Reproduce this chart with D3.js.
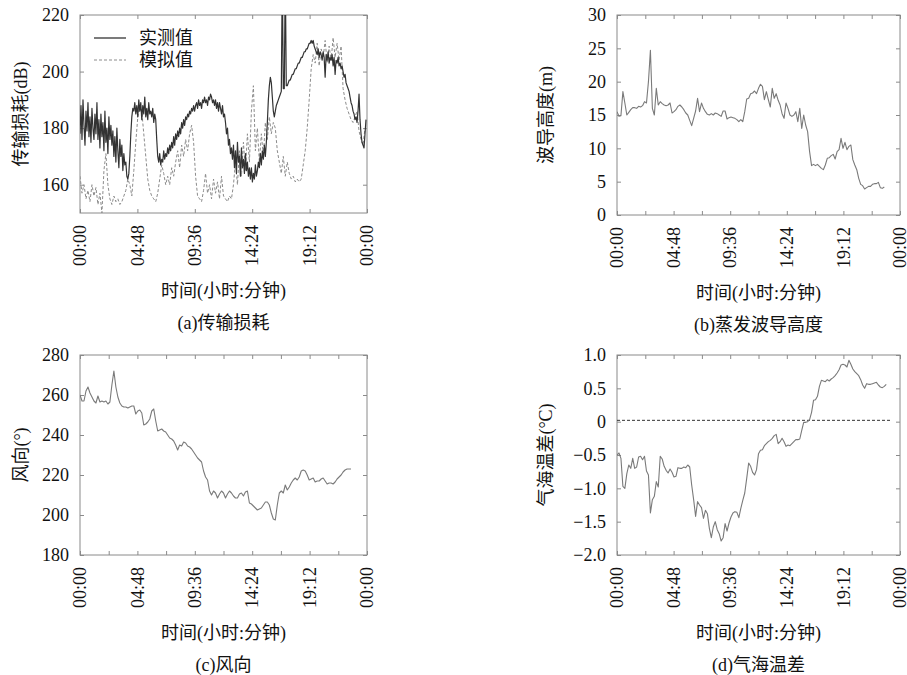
<!DOCTYPE html>
<html>
<head>
<meta charset="utf-8">
<script src="https://cdn.jsdelivr.net/npm/d3@7"></script>
<style>
  body { margin: 0; background: #fff; }
  svg text { font-family: "Liberation Serif", "Noto Sans CJK SC", serif; fill: #111; }
</style>
</head>
<body>
<svg id="chart" width="907" height="675"></svg>
<script>
// ---- shared time axis (hours of the day) ----
const MEASURED_STEP_HOURS = 5 / 60;   // measured loss logged every 5 minutes
const STEP_HOURS = 10 / 60;           // all other records every 10 minutes
const timeMajorTicks = [0, 4.8, 9.6, 14.4, 19.2, 24];
const timeMinorTicks = [0, 2.4, 4.8, 7.2, 9.6, 12, 14.4, 16.8, 19.2, 21.6, 24];
const timeTickLabels = ["00:00", "04:48", "09:36", "14:24", "19:12", "00:00"];

// ---- (a) transmission loss, dB ----
const lossMeasured = [
  178,188,176,190,181,174,186,179,189,177,184,175,187,180,176,185,178,189,176,
  183,173,185,177,182,172,186,175,180,171,184,176,181,
  174,179,170,177,168,180,172,166,176,170,174,165,171,167,168,163,162,
  164,170,178,184,187,186,189,185,
  188,184,190,186,189,183,188,185,191,184,187,183,189,185,186,184,187,182,185,183,
  176,170,168,171,167,169,
  168,172,169,171,170,173,171,174,
  172,175,173,177,174,178,176,179,177,180,178,182,180,183,181,184,183,185,184,186,185,187,186,188,186,188,
  189,187,190,188,189,187,190,189,191,189,190,188,191,190,192,191,
  189,190,188,190,187,189,186,189,187,185,188,184,185,
  182,178,180,174,176,171,173,169,
  174,166,172,164,175,168,170,163,173,166,169,164,171,165,168,163,166,
  162,166,161,164,162,167,163,165,
  168,166,171,167,172,169,174,170,175,
  182,190,195,198,196,
  191,186,184,186,188,
  189,190,191,192,
  193,235,194,194,235,195,
  195,196,197,197,198,199,199,200,201,201,202,203,203,204,205,205,206,207,207,208,208,209,210,210,
  211,210,211,209,208,
  207,206,208,205,207,206,204,207,205,198,206,204,207,203,205,204,206,202,205,199,204,203,205,202,203,201,202,
  200,198,199,196,195,194,193,191,189,
  188,186,185,183,184,182,186,192,183,178,175,174,173,178,183
];
const lossSimulated = [
  163,157,160,155,158,154,160,156,159,153,157,
  150,165,171,160,
  155,153,156,154,155,153,154,156,
  158,162,160,156,
  165,175,184,188,
  186,178,
  170,162,158,156,
  155,154,157,
  162,167,164,160,163,160,166,163,
  168,172,166,174,170,176,172,178,181,175,163,156,
  155,154,
  158,164,157,160,155,162,157,161,155,163,156,155,154,156,155,
  160,168,160,172,163,175,165,178,168,186,195,172,180,168,178,170,182,176,184,178,182,180,
  172,168,164,170,163,168,164,162,163,161,162,161,162,
  167,172,180,190,201,206,203,210,202,208,205,211,203,209,204,212,205,210,204,209,
  194,190,187,185,183,182,184,186,179,176,174,180
];
const lossTicks = [160, 180, 200, 220];

// ---- (b) evaporation duct height, m ----
const ductHeight = [
  15.5,14.8,14.9,18.5,16.8,15.0,15.4,15.8,16.1,16.1,
  16.0,16.3,16.2,16.4,17.0,16.8,20.0,24.7,16.0,15.0,
  19.0,16.5,17.0,16.7,16.5,16.4,16.5,16.8,15.3,15.5,
  15.8,16.3,16.5,16.2,15.8,15.3,15.0,14.2,13.4,14.5,
  15.6,17.5,15.5,16.8,16.0,15.5,15.1,15.0,15.2,15.0,
  15.3,15.2,15.0,14.8,15.6,15.6,14.4,14.6,14.7,14.6,
  14.5,14.3,14.0,14.3,14.0,15.5,17.4,17.5,18.2,18.3,
  18.6,18.2,19.0,19.6,19.3,17.3,18.5,17.3,16.2,19.0,
  17.5,18.2,17.2,16.5,15.2,14.5,16.8,16.0,15.0,14.8,
  15.0,15.5,14.0,16.0,13.0,15.0,13.5,12.5,9.5,7.4,
  7.6,7.4,7.6,7.3,7.0,6.8,7.5,8.5,8.6,8.9,
  9.1,8.4,9.5,9.8,11.5,10.0,10.9,9.8,10.3,10.5,
  8.3,7.5,6.8,5.5,4.6,4.4,3.9,4.1,4.3,4.3,
  4.6,4.7,4.7,4.9,4.1,4.0,4.2
];
const ductTicks = [0, 5, 10, 15, 20, 25, 30];

// ---- (c) wind direction, degrees ----
const windDirection = [
  260,257,257,262,264,261,259,257,256,259.5,
  256.5,257,256.5,257,255.5,256.5,265,272,264,259,
  256,254.5,254,254,253.5,254,254.5,254.5,250.5,252,
  252.5,251,245,245.5,246.5,248,252,253,247,242,
  242.5,243,242,241.5,240,238.5,238,237,235,232.5,
  235,234.5,236.5,236,234.5,234,233,231.5,230,228.5,
  227.5,226.5,222,219,217.5,212,210,212,211,208.5,
  210.5,212,211,208.5,210.5,212,211,209.5,208.5,208.5,
  210.5,211,209.5,211.5,212,206,205.5,204.5,203.5,202.5,
  203,203.5,205,206.5,206.5,205,201,198,197.5,205,
  211,212,211,215,212.5,214,216,217.5,218.5,217.5,
  219,222,222.5,222,220,217.5,218,218.5,216.5,217,
  217,218,218.5,217,215.5,216,216,215.5,216.5,218,
  219,220,221.5,222.5,223,223,223
];
const windTicks = [180, 200, 220, 240, 260, 280];

// ---- (d) air-sea temperature difference, °C ----
const airSeaDiff = [
  -0.50,-0.47,-0.55,-0.97,-1.00,-0.78,-0.65,-0.70,-0.55,-0.70,
  -0.68,-0.53,-0.52,-0.57,-0.52,-0.74,-0.80,-1.37,-1.17,-1.12,
  -0.90,-0.98,-0.52,-0.56,-0.67,-0.73,-0.77,-0.71,-0.76,-0.83,
  -0.82,-0.69,-0.70,-0.70,-0.68,-0.69,-0.65,-0.68,-0.95,-1.17,
  -1.42,-1.20,-1.25,-1.29,-1.45,-1.33,-1.38,-1.60,-1.74,-1.58,
  -1.50,-1.62,-1.68,-1.79,-1.74,-1.53,-1.64,-1.52,-1.43,-1.37,
  -1.35,-1.36,-1.44,-1.30,-1.18,-1.07,-0.85,-0.62,-0.67,-0.76,
  -0.80,-0.72,-0.48,-0.43,-0.42,-0.36,-0.33,-0.30,-0.28,-0.25,
  -0.21,-0.19,-0.33,-0.30,-0.25,-0.30,-0.37,-0.35,-0.36,-0.33,
  -0.30,-0.27,-0.27,-0.26,-0.13,-0.01,-0.01,0.00,0.03,0.14,
  0.32,0.33,0.38,0.53,0.62,0.61,0.60,0.63,0.61,0.64,
  0.66,0.69,0.73,0.78,0.85,0.86,0.85,0.82,0.92,0.86,
  0.79,0.75,0.72,0.69,0.63,0.55,0.50,0.57,0.56,0.56,
  0.57,0.58,0.59,0.55,0.52,0.51,0.53,0.56
];
const zeroLineHours = [0, 23.3];
const zeroLineValues = [0.02, 0.02];
const diffTicks = [-2, -1.5, -1, -0.5, 0, 0.5, 1];

// ---- drawing ----
const svg = d3.select("#chart");
const FRAME = "#8a8a8a";
const fmtDiff = d => d === 0 ? "0" : d3.format(".1f")(d).replace("-", "\u2212");

function drawPanel(opt) {
  const x = d3.scaleLinear().domain([0, 24]).range([opt.left, opt.right]);
  const y = d3.scaleLinear().domain(opt.yDomain).range([opt.bottom, opt.top]);
  const g = svg.append("g");

  const clipId = "clip-" + opt.id;
  g.append("clipPath").attr("id", clipId).append("rect")
    .attr("x", opt.left).attr("y", opt.top)
    .attr("width", opt.right - opt.left).attr("height", opt.bottom - opt.top);

  const tickVals = opt.minor ? timeMinorTicks : timeMajorTicks;
  const tickLabel = d => {
    const k = timeMajorTicks.indexOf(d);
    return k >= 0 ? timeTickLabels[k] : "";
  };

  // bottom axis with rotated time labels
  const bottom = g.append("g").attr("transform", `translate(0,${opt.bottom})`)
    .call(d3.axisBottom(x).tickValues(tickVals).tickSize(-4).tickPadding(12).tickFormat(tickLabel));
  bottom.selectAll("text")
    .attr("transform", "rotate(-90)")
    .attr("x", -12).attr("y", 0).attr("dy", "0.32em")
    .style("text-anchor", "end").style("font-size", "18px");

  g.append("g").attr("transform", `translate(0,${opt.top})`)
    .call(d3.axisTop(x).tickValues(tickVals).tickSize(-4).tickFormat(""));

  g.append("g").attr("transform", `translate(${opt.left},0)`)
    .call(d3.axisLeft(y).tickValues(opt.yTicks).tickSize(-4).tickPadding(11)
      .tickFormat(opt.yFormat || d3.format("d")))
    .selectAll("text").style("font-size", "18px");

  g.append("g").attr("transform", `translate(${opt.right},0)`)
    .call(d3.axisRight(y).tickValues(opt.yTicks).tickSize(-4).tickFormat(""));

  g.selectAll(".domain").remove();
  g.selectAll(".tick line").attr("stroke", FRAME);
  g.selectAll(".tick text").attr("fill", "#111");

  g.append("rect")
    .attr("x", opt.left).attr("y", opt.top)
    .attr("width", opt.right - opt.left).attr("height", opt.bottom - opt.top)
    .attr("fill", "none").attr("stroke", FRAME).attr("stroke-width", 1);

  const plot = g.append("g").attr("clip-path", `url(#${clipId})`);
  opt.series.forEach(s => {
    const step = s.step || STEP_HOURS;
    const hours = s.hours || s.values.map((_, i) => i * step);
    const pts = s.values.map((v, i) => [hours[i], v]);
    plot.append("path")
      .datum(pts)
      .attr("fill", "none")
      .attr("stroke", s.color)
      .attr("stroke-width", s.width)
      .attr("stroke-dasharray", s.dash || null)
      .attr("stroke-linejoin", "round")
      .attr("d", d3.line().x(d => x(d[0])).y(d => y(d[1])));
  });

  const cx = (opt.left + opt.right) / 2;
  g.append("text").attr("x", cx).attr("y", opt.bottom + 84)
    .attr("text-anchor", "middle").style("font-size", "18px").text("时间(小时:分钟)");
  g.append("text").attr("x", cx).attr("y", opt.bottom + 116)
    .attr("text-anchor", "middle").style("font-size", "18px").text(opt.caption);
  g.append("text")
    .attr("transform", `translate(${opt.yTitleX},${(opt.top + opt.bottom) / 2}) rotate(-90)`)
    .attr("text-anchor", "middle").attr("dy", "0.35em")
    .style("font-size", "18px").text(opt.yTitle);
  return g;
}

const gA = drawPanel({
  id: "a", left: 80, right: 367, top: 15, bottom: 213,
  yDomain: [150, 220], yTicks: lossTicks, minor: false,
  yTitle: "传输损耗(dB)", yTitleX: 21, caption: "(a)传输损耗",
  series: [
    { values: lossSimulated, color: "#8c8c8c", width: 1, dash: "3,2" },
    { values: lossMeasured, step: MEASURED_STEP_HOURS, color: "#333", width: 1.2 }
  ]
});

// legend for panel (a)
const legend = gA.append("g");
[["实测值", "#333", null, 38], ["模拟值", "#8c8c8c", "3,2", 60]].forEach(([label, c, dash, ly]) => {
  legend.append("line").attr("x1", 94).attr("x2", 126).attr("y1", ly).attr("y2", ly)
    .attr("stroke", c).attr("stroke-width", dash ? 1 : 1.3).attr("stroke-dasharray", dash);
  legend.append("text").attr("x", 139).attr("y", ly).attr("dy", "0.36em")
    .style("font-size", "18px").text(label);
});

drawPanel({
  id: "b", left: 617, right: 900, top: 15, bottom: 215,
  yDomain: [0, 30], yTicks: ductTicks, minor: true,
  yTitle: "波导高度(m)", yTitleX: 546, caption: "(b)蒸发波导高度",
  series: [{ values: ductHeight, color: "#7a7a7a", width: 1.1 }]
});

drawPanel({
  id: "c", left: 80, right: 367, top: 355, bottom: 555,
  yDomain: [180, 280], yTicks: windTicks, minor: true,
  yTitle: "风向(°)", yTitleX: 21, caption: "(c)风向",
  series: [{ values: windDirection, color: "#7a7a7a", width: 1.1 }]
});

drawPanel({
  id: "d", left: 617, right: 900, top: 355, bottom: 555,
  yDomain: [-2, 1], yTicks: diffTicks, minor: true, yFormat: fmtDiff,
  yTitle: "气海温差(°C)", yTitleX: 546, caption: "(d)气海温差",
  series: [
    { hours: zeroLineHours, values: zeroLineValues, color: "#333", width: 1, dash: "3,2" },
    { values: airSeaDiff, color: "#7a7a7a", width: 1.1 }
  ]
});
</script>
</body>
</html>
